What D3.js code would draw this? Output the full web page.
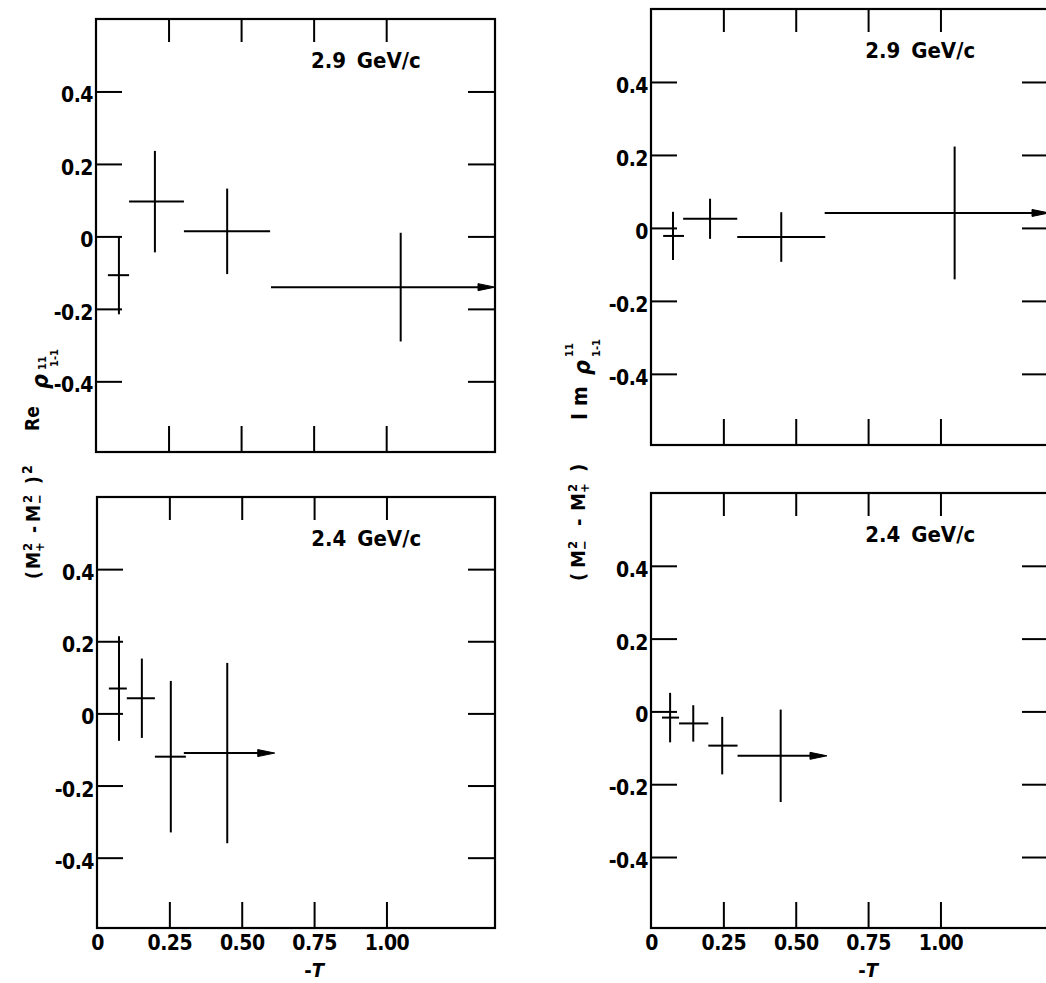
<!DOCTYPE html>
<meta charset="utf-8">

<html>

<head>
    <title>Density matrix elements vs -t</title>
    <style>
        body {
            margin: 0;
            background: #fff;
        }

        svg {
            display: block;
        }

        svg text {
            font-family: "DejaVu Sans Condensed", "DejaVu Sans", sans-serif;
            font-weight: bold;
            fill: black;
        }
    </style>
    <script src="https://d3js.org/d3.v7.min.js"></script>
</head>

<body>

    <div id="chart-container"></div>

    <script>

        // tick values and labels
        var tTicks = [0, 0.25, 0.5, 0.75, 1.0];
        var tTickLabels = ["0", "0.25", "0.50", "0.75", "1.00"];
        var rhoTicks = [-0.4, -0.2, 0, 0.2, 0.4];
        var rhoTickLabels = ["-0.4", "-0.2", "0", "0.2", "0.4"];

        // Re rho, 2.9 GeV/c
        var re29T = [0.079, 0.203, 0.452, 1.05];
        var re29Lo = [0.041, 0.114, 0.303, 0.603];
        var re29Hi = [0.114, 0.303, 0.600, null];   // null = open bin, arrow to the edge
        var re29Val = [-0.107, 0.096, 0.014, -0.14];
        var re29Err = [0.108, 0.14, 0.118, 0.15];

        // Im rho, 2.9 GeV/c
        var im29T = [0.076, 0.204, 0.45, 1.049];
        var im29Lo = [0.042, 0.111, 0.298, 0.600];
        var im29Hi = [0.114, 0.298, 0.602, null];
        var im29Val = [-0.022, 0.025, -0.025, 0.041];
        var im29Err = [0.066, 0.055, 0.068, 0.182];

        // (M+^2 - M-^2)^2 Re rho, 2.4 GeV/c
        var re24T = [0.076, 0.155, 0.255, 0.45];
        var re24Lo = [0.041, 0.103, 0.200, 0.300];
        var re24Hi = [0.103, 0.200, 0.307, 0.614];
        var re24Val = [0.069, 0.042, -0.12, -0.11];
        var re24Err = [0.145, 0.11, 0.21, 0.25];

        // (M-^2 - M+^2) Im rho, 2.4 GeV/c
        var im24T = [0.066, 0.146, 0.246, 0.448];
        var im24Lo = [0.038, 0.097, 0.198, 0.299];
        var im24Hi = [0.097, 0.198, 0.299, 0.608];
        var im24Val = [-0.017, -0.033, -0.094, -0.122];
        var im24Err = [0.068, 0.05, 0.079, 0.127];

        // last bin of each panel carries an arrow
        var arrowBin = [false, false, false, true];

        var width = 1046,
            height = 983;

        var svg = d3.select("#chart-container")
            .append("svg")
            .attr("width", width)
            .attr("height", height);

        svg.append("rect")
            .attr("width", width)
            .attr("height", height)
            .attr("fill", "white");

        var panels = [
            { label: "2.9 GeV/c", t: re29T, lo: re29Lo, hi: re29Hi, val: re29Val, err: re29Err,
              box: { left: 96, right: 495, top: 19, bottom: 452 }, bottomRow: false },
            { label: "2.9 GeV/c", t: im29T, lo: im29Lo, hi: im29Hi, val: im29Val, err: im29Err,
              box: { left: 651, right: 1049, top: 9, bottom: 445 }, bottomRow: false },
            { label: "2.4 GeV/c", t: re24T, lo: re24Lo, hi: re24Hi, val: re24Val, err: re24Err,
              box: { left: 97, right: 495, top: 497, bottom: 928 }, bottomRow: true },
            { label: "2.4 GeV/c", t: im24T, lo: im24Lo, hi: im24Hi, val: im24Val, err: im24Err,
              box: { left: 651, right: 1049, top: 493, bottom: 928 }, bottomRow: true }
        ];

        var tMax = 1.375;

        panels.forEach(function (p) {
            var b = p.box;

            var x = d3.scaleLinear()
                .domain([0, tMax])
                .range([b.left, b.right]);

            var y = d3.scaleLinear()
                .domain([-0.595, 0.6])
                .range([b.bottom, b.top]);

            var g = svg.append("g");

            // frame
            g.append("rect")
                .attr("x", b.left)
                .attr("y", b.top)
                .attr("width", b.right - b.left)
                .attr("height", b.bottom - b.top)
                .attr("fill", "none")
                .attr("stroke", "black")
                .attr("stroke-width", 2.2);

            // ticks, all pointing inward
            var left = g.append("g")
                .attr("transform", "translate(" + b.left + ",0)")
                .call(d3.axisLeft(y)
                    .tickValues(rhoTicks)
                    .tickFormat(function (d, i) { return rhoTickLabels[i]; })
                    .tickSizeInner(-26)
                    .tickSizeOuter(0)
                    .tickPadding(3));

            var right = g.append("g")
                .attr("transform", "translate(" + b.right + ",0)")
                .call(d3.axisRight(y)
                    .tickValues(rhoTicks)
                    .tickFormat("")
                    .tickSizeInner(-27)
                    .tickSizeOuter(0));

            var top = g.append("g")
                .attr("transform", "translate(0," + b.top + ")")
                .call(d3.axisTop(x)
                    .tickValues(tTicks.slice(1))
                    .tickFormat("")
                    .tickSizeInner(-23)
                    .tickSizeOuter(0));

            var bottom = g.append("g")
                .attr("transform", "translate(0," + b.bottom + ")")
                .call(d3.axisBottom(x)
                    .tickValues(p.bottomRow ? tTicks : tTicks.slice(1))
                    .tickFormat(function (d) {
                        return p.bottomRow ? tTickLabels[tTicks.indexOf(d)] : "";
                    })
                    .tickSizeInner(-26)
                    .tickSizeOuter(0)
                    .tickPadding(7));

            [left, right, top, bottom].forEach(function (a) {
                a.select(".domain").remove();
                a.selectAll("line").attr("stroke-width", 2);
                a.attr("font-family", null).attr("font-size", null);
                a.selectAll("text")
                    .attr("font-size", 21)
                    .attr("letter-spacing", -0.5);
            });
            left.selectAll("text").attr("dy", "0.5em");
            // no tick line at t = 0, the frame corner is there
            bottom.selectAll(".tick").filter(function (d) { return d === 0; }).select("line").remove();

            // beam momentum label
            g.append("text")
                .attr("x", x(0.93))
                .attr("y", b.top + 49)
                .attr("text-anchor", "middle")
                .attr("font-size", 22)
                .attr("word-spacing", 4)
                .text(p.label);

            // -t axis title on the bottom row
            if (p.bottomRow) {
                var tt = g.append("text")
                    .attr("x", x(0.75))
                    .attr("y", b.bottom + 49)
                    .attr("text-anchor", "middle")
                    .attr("font-size", 20);
                tt.append("tspan").text("-");
                tt.append("tspan").attr("font-style", "italic").text("T");
            }

            // data points: horizontal bin width, vertical error bar
            var pts = p.t.map(function (t, i) {
                return { t: t, lo: p.lo[i], hi: p.hi[i] === null ? tMax : p.hi[i],
                         v: p.val[i], e: p.err[i], arrow: arrowBin[i] };
            });

            var marks = g.append("g")
                .attr("stroke", "black")
                .attr("stroke-width", 2)
                .attr("fill", "black");

            marks.selectAll(".hbar")
                .data(pts)
                .enter().append("line")
                .attr("x1", d => x(d.lo))
                .attr("x2", d => d.arrow ? x(d.hi) - 12 : x(d.hi))
                .attr("y1", d => y(d.v))
                .attr("y2", d => y(d.v));

            marks.selectAll(".vbar")
                .data(pts)
                .enter().append("line")
                .attr("x1", d => x(d.t))
                .attr("x2", d => x(d.t))
                .attr("y1", d => y(d.v + d.e))
                .attr("y2", d => y(d.v - d.e));

            marks.selectAll(".head")
                .data(pts.filter(d => d.arrow))
                .enter().append("path")
                .attr("stroke-width", 1)
                .attr("d", function (d) {
                    var xe = x(d.hi), ye = y(d.v);
                    return "M" + xe + "," + ye + "L" + (xe - 17) + "," + (ye - 3.5) +
                        "L" + (xe - 17) + "," + (ye + 3.5) + "Z";
                });
        });

        // rotated y-axis titles, built piece by piece for the stacked indices
        function scriptLabel(x0, y0, pieces) {
            var t = svg.append("text")
                .attr("transform", "translate(" + x0 + "," + y0 + ") rotate(-90)");
            pieces.forEach(function (p) {
                var s = t.append("tspan")
                    .attr("x", p[1])
                    .attr("y", p[2])
                    .attr("font-size", p[3])
                    .text(p[0]);
                if (p[4]) s.attr("font-style", "italic");
            });
        }

        // left column
        scriptLabel(40, 579, [
            ["(", 0, 0, 19], ["M", 10, 0, 19], ["2", 28, -8, 13], ["+", 27, 4, 13],
            ["-", 46, 0, 19], ["M", 57, 0, 19], ["2", 76, -8, 13], ["\u2212", 75, 4, 13],
            [")", 95, 0, 19], ["2", 105, -8, 14]
        ]);
        scriptLabel(39, 431, [
            ["Re", 0, 0, 19], ["\u03c1", 42, 9, 23, true], ["11", 61, 7, 11], ["1-1", 64, 19, 11]
        ]);

        // right column
        scriptLabel(585, 582, [
            ["(", 1, 0, 20], ["M", 14, 0, 20], ["2", 33, -8, 13], ["\u2212", 32, 4, 13],
            ["-", 56, 0, 20], ["M", 71, 0, 20], ["2", 90, -8, 13], ["+", 89, 4, 13],
            [")", 110, 0, 20]
        ]);
        scriptLabel(587, 420, [
            ["I", 0, 0, 21], ["m", 14, 0, 21], ["\u03c1", 45, 3, 23, true], ["11", 63, -14, 11], ["1-1", 63, 13, 11]
        ]);

    </script>

</body>

</html>
